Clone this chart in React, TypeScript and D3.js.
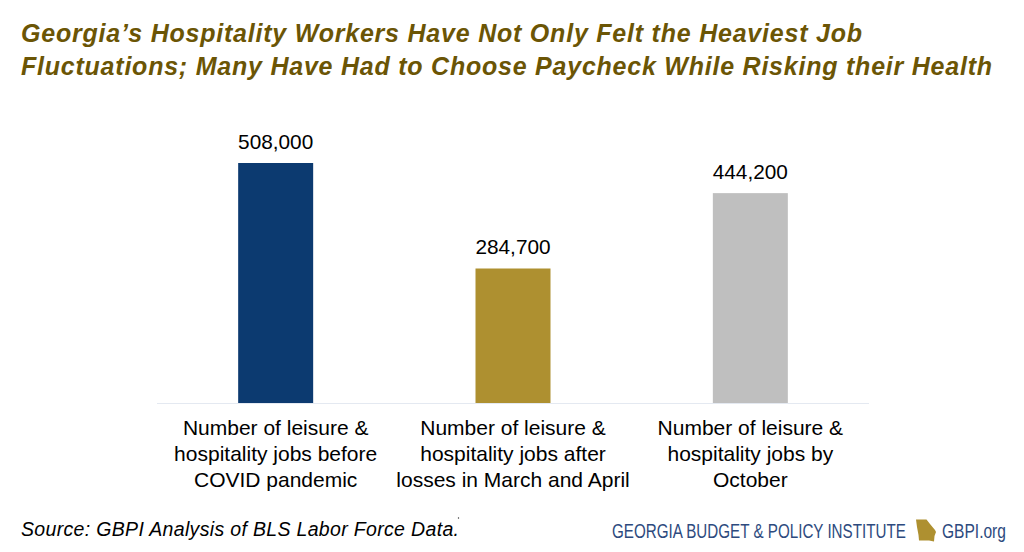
import React, { useEffect, useRef } from 'react';
import * as d3 from 'd3';

const titleLines = [
  'Georgia’s Hospitality Workers Have Not Only Felt the Heaviest Job',
  'Fluctuations; Many Have Had to Choose Paycheck While Risking their Health',
];
const categories = ['before', 'after', 'october'];
const jobValues = [508000, 284700, 444200];
const barColors = ['#0c3a70', '#ae9030', '#bfbfbf'];
const categoryLabels = [
  ['Number of leisure &', 'hospitality jobs before', 'COVID pandemic'],
  ['Number of leisure &', 'hospitality jobs after', 'losses in March and April'],
  ['Number of leisure &', 'hospitality jobs by', 'October'],
];
const sourceText = 'Source: GBPI Analysis of BLS Labor Force Data.';
const logoText = 'GEORGIA BUDGET & POLICY INSTITUTE';
const logoUrl = 'GBPI.org';

const width = 1024;
const height = 552;
const font = '"Liberation Sans", Arial, sans-serif';

const App = () => {
  const svgRef = useRef<SVGSVGElement>(null);

  useEffect(() => {
    const svg = d3.select(svgRef.current);
    svg.selectAll('*').remove();

    const x = d3.scaleBand<string>()
      .domain(categories)
      .range([157, 869])
      .paddingInner(0.684)
      .paddingOuter(0.342);
    const y = d3.scaleLinear().domain([0, 508000]).range([403, 163]);

    // Title
    svg.append('g')
      .selectAll('text')
      .data(titleLines)
      .enter().append('text')
      .attr('x', 21)
      .attr('y', (d, i) => 42 + i * 32.5)
      .attr('fill', '#6b5505')
      .style('font-family', font)
      .style('font-size', '25px')
      .style('font-weight', 700)
      .style('font-style', 'italic')
      .attr('textLength', (d, i) => (i === 0 ? 841 : 971))
      .attr('lengthAdjust', 'spacing')
      .text(d => d);

    // Bars
    svg.append('g')
      .selectAll('rect')
      .data(jobValues)
      .enter().append('rect')
      .attr('x', (d, i) => x(categories[i]) as number)
      .attr('y', d => y(d))
      .attr('width', x.bandwidth())
      .attr('height', d => y(0) - y(d))
      .attr('fill', (d, i) => barColors[i]);

    // Baseline
    svg.append('line')
      .attr('x1', 157)
      .attr('x2', 869)
      .attr('y1', 403.5)
      .attr('y2', 403.5)
      .attr('stroke', '#e4e9f1')
      .attr('stroke-width', 1);

    // Value labels
    svg.append('g')
      .selectAll('text')
      .data(jobValues)
      .enter().append('text')
      .attr('x', (d, i) => (x(categories[i]) as number) + x.bandwidth() / 2)
      .attr('y', d => y(d) - 14)
      .attr('text-anchor', 'middle')
      .attr('fill', '#000')
      .style('font-family', font)
      .style('font-size', '20.8px')
      .text(d => d3.format(',')(d));

    // Category labels
    const cat = svg.append('g')
      .selectAll('g')
      .data(categoryLabels)
      .enter().append('g')
      .attr('transform', (d, i) => `translate(${(x(categories[i]) as number) + x.bandwidth() / 2},0)`);
    cat.selectAll('text')
      .data(d => d)
      .enter().append('text')
      .attr('x', 0)
      .attr('y', (d, i) => 435 + i * 26)
      .attr('text-anchor', 'middle')
      .attr('fill', '#000')
      .style('font-family', font)
      .style('font-size', '21px')
      .text(d => d);

    // Source note
    svg.append('text')
      .attr('x', 21)
      .attr('y', 536)
      .attr('fill', '#000')
      .style('font-family', font)
      .style('font-size', '19.5px')
      .style('font-style', 'italic')
      .attr('textLength', 438)
      .text(sourceText);
    svg.append('circle')
      .attr('cx', 458.5)
      .attr('cy', 518)
      .attr('r', 0.7)
      .attr('fill', '#333');

    // Logo: no narrow face installed, so squeeze the regular one to the logo's width
    const logoLabel = (text: string, left: number, targetWidth: number) => {
      const label = svg.append('text')
        .attr('fill', '#2d4a7e')
        .style('font-family', font)
        .style('font-size', '19.5px')
        .text(text);
      const natural = (label.node() as SVGTextElement).getComputedTextLength();
      label.attr('transform', `translate(${left},538) scale(${targetWidth / natural},1)`);
    };
    logoLabel(logoText, 612, 294);
    svg.append('path')
      .attr('d', 'M916 519.500 L926.500 519.500 L930 524 L935 530 L936 532 L934.500 536 L934 541.500 L929 540.500 L919 540.500 L918.500 535 L917 527 Z')
      .attr('fill', '#ae9030');
    logoLabel(logoUrl, 942, 64);
  }, []);

  return (
    <svg
      ref={svgRef}
      width={width}
      height={height}
      style={{ position: 'absolute', left: 0, top: 0, background: '#fff' }}
    />
  );
};

export default App;
